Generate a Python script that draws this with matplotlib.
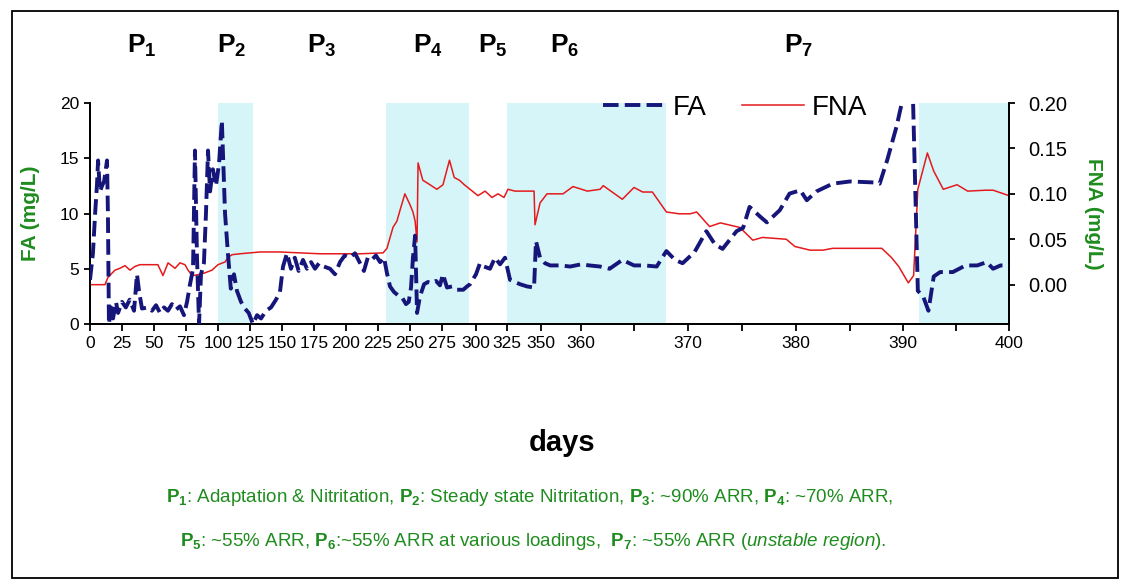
import numpy as np
import matplotlib
matplotlib.use('Agg')
import matplotlib.pyplot as plt
from matplotlib.lines import Line2D
from matplotlib.patches import Rectangle
import matplotlib.transforms as mtransforms

plt.rcParams['font.family'] = ['Liberation Sans', 'DejaVu Sans']
plt.rcParams['mathtext.fontset'] = 'custom'
plt.rcParams['mathtext.rm'] = 'Liberation Sans'
plt.rcParams['mathtext.bf'] = 'Liberation Sans:bold'
plt.rcParams['mathtext.it'] = 'Liberation Sans:italic'

# ---------------- data ----------------
FA_DAYS = [0, 2.3, 4, 5.5, 6.3, 7.8, 9.4, 11, 13.3, 14, 14.8, 16.4, 18, 20.3, 21.9, 25, 28, 31, 34.4,
           36.7, 38.3, 40.6, 45.3, 48.4, 51.6, 54.7, 57.8, 60.9, 64, 67.2, 70.3, 73.4, 75.8, 78, 80.5,
           82, 83.6, 85.2, 86.7, 89, 90.6, 92.2, 93.8, 96, 98.4, 100.8, 103, 105.5, 107.8, 110, 112.5,
           114.8, 118, 121, 124, 127.3, 130.5, 133.6, 137.5, 141.4, 145.3, 148.4, 150.8, 153.9, 157,
           160, 163, 166.4, 169.5, 172.7, 175.8, 178.9, 182.8, 187.5, 191.4, 195.3, 199, 203, 207, 211,
           214, 217, 220, 223.4, 226.6, 229.7, 232, 234.4, 237.5, 240.6, 243.8, 246.9, 249, 250.8,
           252.3, 254, 255.5, 257.8, 261, 264, 267, 270.3, 273.4, 275.7, 278.7, 282.4, 286, 290.6,
           293.4, 295.6, 300, 303.2, 306.5, 311.3, 315.3, 319.4, 323.4, 327.2, 330.9, 334.6, 339.7,
           344.9, 346.3, 349.3, 351, 352.3, 354.8, 357.3, 360, 360.8, 361.8, 362.7, 363.9, 365, 366,
           367.1, 368, 368.8, 369.5, 370.6, 371.7, 372.5, 373.2, 374.5, 375.1, 375.7, 376.7, 377.3,
           378.5, 379.4, 380.4, 381, 381.9, 383.4, 385, 387.5, 387.8, 388.5, 389.4, 390, 390.7, 390.9,
           391.4, 391.9, 392.4, 392.9, 393.5, 394.7, 395.9, 397, 397.9, 398.5, 399.2, 400]
FA_VALUES = [4.0, 6.4, 10, 12.7, 14.8, 12, 12.5, 12.9, 14.8, 10, 0, 1.5, 0.5, 2.0, 1.0, 2.0, 1.5, 2.2, 1.2,
             4.5, 3.0, 1.4, 1.5, 1.2, 1.7, 1.0, 1.5, 1.2, 1.8, 1.3, 1.6, 0.8, 2.0, 3.5, 5,
             15.7, 6, 0, 4.5, 5.5, 10, 15.7, 12, 14, 12.5, 14.5, 18.4, 10, 6.3, 3.2, 4.5,
             3.0, 2.0, 1.4, 1.0, 0, 0.8, 0.5, 1.2, 1.5, 2.2, 2.9, 5.2, 6.4, 5.0,
             6.0, 4.8, 5.8, 5.0, 5.6, 5.0, 5.5, 5.2, 5.0, 4.5, 5.6, 6.2, 6.0, 6.4, 5.5,
             4.8, 6.0, 5.8, 6.2, 5.6, 6.0, 4.6, 3.4, 2.9, 2.6, 2.4, 1.8, 2.0, 3.3,
             6, 8.0, 1.0, 2.5, 3.6, 3.8, 3.7, 3.9, 3.5, 4.5, 3.3, 3.4, 3.1, 3.1,
             3.4, 3.6, 4.5, 5.5, 5.2, 5.0, 6.0, 5.4, 6.0, 4.0, 3.8, 3.6, 3.4,
             3.3, 7.5, 6.0, 5.5, 5.3, 5.3, 5.2, 5.4, 5.3, 5.2, 5.0, 5.8, 5.3, 5.3,
             5.2, 6.6, 5.8, 5.5, 6.5, 8.4, 7.2, 6.8, 8.4, 8.7, 10.6, 9.7, 9.2,
             10.3, 11.8, 12.1, 11.2, 12.0, 12.7, 12.9, 12.8, 12.7, 14.8, 17.9, 20.5, 24, 22,
             3.0, 2.5, 1.2, 4.3, 4.7, 4.7, 5.3, 5.3, 5.6, 5.0, 5.3, 5.3]

FNA_DAYS = [0, 11.7, 14, 19.5, 23.4, 27.3, 31.3, 35, 39, 46.9, 53, 57, 61, 66.4, 70.3, 74.2, 76.6, 79.7,
            84.4, 89.8, 95.3, 100, 105.5, 107.8, 111, 117, 125, 132.8, 140.6, 148.4, 164, 179.7, 195.3,
            211, 229, 232, 236.7, 239.8, 242, 246, 250, 252.3, 254, 255.5, 256.3, 260, 265.6, 271,
            275.7, 280.5, 284, 287.8, 291.4, 295.6, 301.6, 307.3, 312.9, 317.7, 322.6, 325.7, 330.9,
            341.9, 344.9, 345.6, 349.3, 351.5, 353.5, 355.5, 358, 360.6, 361.8, 362.1, 363.9, 365,
            365.8, 366.7, 368, 369.2, 370.2, 370.8, 372, 373, 374.8, 376, 376.9, 379.1, 379.9, 381.3,
            382.5, 383.4, 388, 388.9, 389.6, 390.5, 391, 391.4, 392.3, 392.9, 393.8, 395.1, 396.1,
            397.8, 398.5, 400]
FNA_VALUES = [0.0, 0.0, 0.008, 0.016, 0.018, 0.021, 0.016, 0.02, 0.022, 0.022, 0.022, 0.01, 0.024, 0.018,
              0.024, 0.022, 0.016, 0.01, 0.011, 0.013, 0.016, 0.022, 0.025, 0.03, 0.033, 0.034, 0.035,
              0.036, 0.036, 0.036, 0.035, 0.034, 0.034, 0.034, 0.035, 0.04, 0.063, 0.07, 0.081, 0.1,
              0.088, 0.08, 0.07, 0.047, 0.134, 0.115, 0.11, 0.105, 0.11, 0.137, 0.118, 0.115, 0.11,
              0.105, 0.098, 0.103, 0.096, 0.1, 0.096, 0.105, 0.103, 0.103, 0.103, 0.066, 0.09, 0.1,
              0.1, 0.1, 0.108, 0.103, 0.105, 0.109, 0.094, 0.107, 0.102, 0.102, 0.08, 0.078, 0.078,
              0.08, 0.064, 0.068, 0.063, 0.049, 0.052, 0.05, 0.042, 0.038, 0.038, 0.04, 0.04, 0.03,
              0.02, 0.002, 0.01, 0.105, 0.145, 0.125, 0.105, 0.11, 0.103, 0.104, 0.104, 0.098]

SHADED_PHASES = [(100, 127), (231, 295), (325, 368), (391.5, 400)]
XTICK_DAYS = [0, 25, 50, 75, 100, 125, 150, 175, 200, 225, 250, 275, 300, 325, 350, 360, 370, 380, 390, 400]
XMINOR_DAYS = [365, 375, 385, 395]
FA_TICKS = [0, 5, 10, 15, 20]
FNA_TICKS = [0.00, 0.05, 0.10, 0.15, 0.20]
PHASE_LABELS = [r'$\mathbf{P_1}$', r'$\mathbf{P_2}$', r'$\mathbf{P_3}$', r'$\mathbf{P_4}$',
                r'$\mathbf{P_5}$', r'$\mathbf{P_6}$', r'$\mathbf{P_7}$']
PHASE_X = [40.6, 111, 181, 264, 313.7, 356, 380.2]

# non-uniform day axis (as in the original category-like axis)
SCALE_DAYS = np.array([0, 25, 50, 75, 100, 125, 150, 175, 200, 225, 250, 275, 300, 325, 350,
                       360, 365, 370, 375, 380, 385, 390, 395, 400], float)
SCALE_POS = np.array([0, 32, 64, 96, 128, 160, 192, 224, 256, 288, 320, 352, 386, 417, 451,
                      491, 544, 598, 652, 706, 760, 813, 866, 919], float)
_s0 = (SCALE_POS[1] - SCALE_POS[0]) / (SCALE_DAYS[1] - SCALE_DAYS[0])
_s1 = (SCALE_POS[-1] - SCALE_POS[-2]) / (SCALE_DAYS[-1] - SCALE_DAYS[-2])


def fwd(x):
    x = np.asarray(x, float)
    y = np.interp(x, SCALE_DAYS, SCALE_POS)
    y = np.where(x < SCALE_DAYS[0], SCALE_POS[0] + (x - SCALE_DAYS[0]) * _s0, y)
    y = np.where(x > SCALE_DAYS[-1], SCALE_POS[-1] + (x - SCALE_DAYS[-1]) * _s1, y)
    return y


def inv(p):
    p = np.asarray(p, float)
    x = np.interp(p, SCALE_POS, SCALE_DAYS)
    x = np.where(p < SCALE_POS[0], SCALE_DAYS[0] + (p - SCALE_POS[0]) / _s0, x)
    x = np.where(p > SCALE_POS[-1], SCALE_DAYS[-1] + (p - SCALE_POS[-1]) / _s1, x)
    return x


GREEN = '#1f8c1f'
NAVY = '#15157a'
RED = '#e41a1c'
SHADE = '#d6f5f9'

W, H = 1143, 585
fig = plt.figure(figsize=(W / 100, H / 100), dpi=100)
ax = fig.add_axes([90 / W, 1 - 324 / H, 919 / W, 221 / H])
ax.set_xscale('function', functions=(fwd, inv))
ax2 = ax.twinx()

# shaded phases + FNA on the secondary axis (drawn below)
for a, b in SHADED_PHASES:
    ax2.axvspan(a, b, color=SHADE, lw=0, zorder=0)
ax2.plot(FNA_DAYS, FNA_VALUES, color=RED, lw=1.1, zorder=2)

# FA on top
ax.set_zorder(ax2.get_zorder() + 1)
ax.patch.set_visible(False)
fa_line, = ax.plot(FA_DAYS, FA_VALUES, color=NAVY, lw=2.8, zorder=3)
fa_line.set_dashes((4, 1.6))

ax.set_xlim(0, 400)
ax.set_ylim(0, 20)
ax2.set_ylim(-0.0433, 0.20)

ax.set_xticks(XTICK_DAYS)
ax.set_xticklabels([str(d) for d in XTICK_DAYS])
ax.set_xticks(XMINOR_DAYS, minor=True)
ax.set_yticks(FA_TICKS)
ax.set_yticklabels([str(v) for v in FA_TICKS])
ax2.set_yticks(FNA_TICKS)
ax2.set_yticklabels(['%.2f' % v for v in FNA_TICKS])

for a in (ax, ax2):
    a.spines['top'].set_visible(False)
    for s in a.spines.values():
        s.set_linewidth(1.3)
ax.tick_params(axis='x', which='both', direction='out', length=5, width=1.3, labelsize=12.5, pad=4)
ax.tick_params(axis='y', direction='out', length=4, width=1.3, labelsize=12.5, pad=4)
ax2.tick_params(axis='y', direction='out', length=4, width=1.3, labelsize=14.5, pad=10)

ax.set_ylabel('FA (mg/L)', color=GREEN, fontweight='bold', fontsize=15)
ax.yaxis.set_label_coords(-50 / 919, 0.5)
ax2.set_ylabel('FNA (mg/L)', color=GREEN, fontweight='bold', fontsize=15, rotation=270, va='center')
ax2.yaxis.set_label_coords((1093 - 90) / 919, 0.5)

# legend
handles = [Line2D([], [], color=NAVY, lw=2.8, dashes=(4, 1.6)),
           Line2D([], [], color=RED, lw=1.1)]
ax.legend(handles, ['FA', 'FNA'], ncol=2, frameon=False, loc='center left',
          bbox_to_anchor=(603 / W, 1 - 108 / H), bbox_transform=fig.transFigure,
          borderpad=0, borderaxespad=0, handlelength=2.2, handletextpad=0.3,
          columnspacing=1.3, prop={'size': 20})

# phase labels
trans = mtransforms.blended_transform_factory(ax.transData, fig.transFigure)
for lab, xp in zip(PHASE_LABELS, PHASE_X):
    ax.text(xp, 1 - 46 / H, lab, transform=trans, ha='center', va='center', fontsize=19,
            clip_on=False)

fig.text(562 / W, 1 - 443 / H, 'days', ha='center', va='center', fontsize=21, fontweight='bold')

line1 = (r'$\mathbf{P_1}$: Adaptation & Nitritation, $\mathbf{P_2}$: Steady state Nitritation, '
         r'$\mathbf{P_3}$: ~90% ARR, $\mathbf{P_4}$: ~70% ARR,')
line2 = (r'$\mathbf{P_5}$: ~55% ARR, $\mathbf{P_6}$:~55% ARR at various loadings,  '
         r'$\mathbf{P_7}$: ~55% ARR $\mathit{(unstable\ region)}$.')
fig.text(530 / W, 1 - 497 / H, line1, ha='center', va='center', fontsize=13.5, color=GREEN)
fig.text(533 / W, 1 - 541 / H, line2, ha='center', va='center', fontsize=13.5, color=GREEN)

fig.add_artist(Rectangle((12 / W, 1 - 578 / H), (1118 - 12) / W, (578 - 11) / H,
                         transform=fig.transFigure, fill=False, ec='black', lw=1.3))

fig.savefig('out.png', dpi=100)
